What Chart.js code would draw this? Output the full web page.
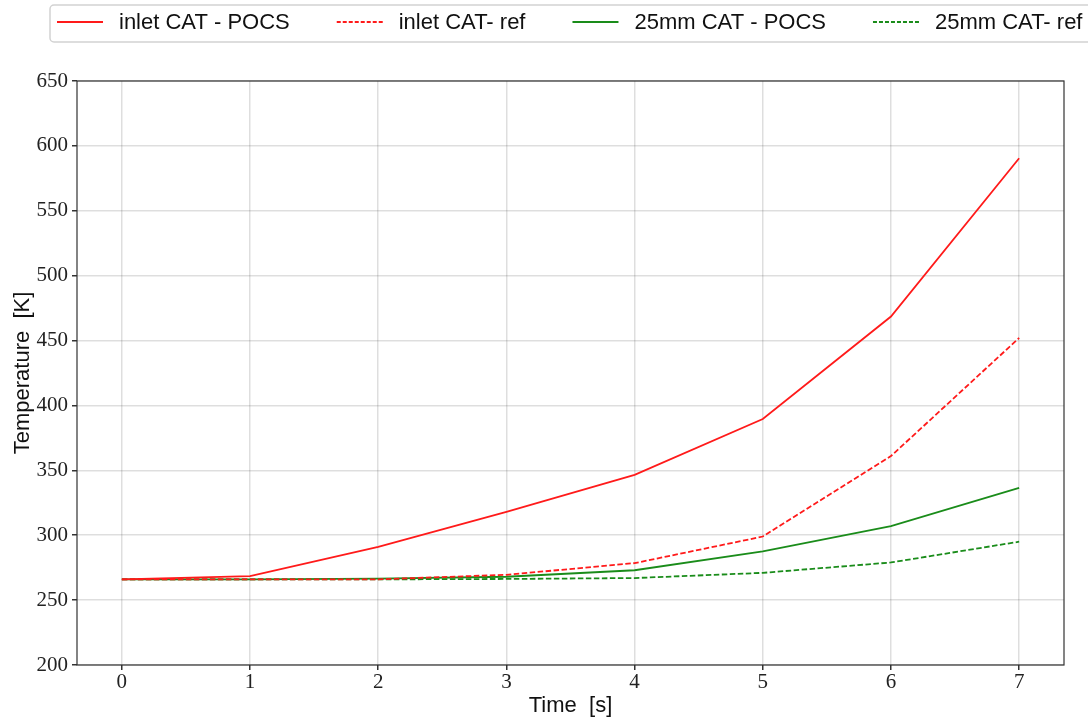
<!DOCTYPE html>
<html>
<head>
<meta charset="utf-8">
<title>Temperature vs time</title>
<script src="https://cdn.jsdelivr.net/npm/chart.js@4.4.1/dist/chart.umd.min.js"></script>
<style>
  html, body { margin: 0; padding: 0; background: #fff; }
  #wrap { width: 1088px; height: 720px; }
</style>
</head>
<body>
<div id="wrap"><canvas id="tempChart" width="1088" height="720"></canvas></div>
<script>
// time steps [s]
const times = [0, 1, 2, 3, 4, 5, 6, 7]
const xTicks = [0, 1, 2, 3, 4, 5, 6, 7]
const yTicks = [200, 250, 300, 350, 400, 450, 500, 550, 600, 650]

// temperatures [K]
const inletPocs = [266, 268.5, 291, 318, 346.5, 389.5, 468.5, 590.5]
const inletRef = [266, 266, 266, 269.5, 278.5, 299, 361, 452]
const mm25Pocs = [266, 266, 266.5, 268, 273, 287.5, 307, 336.5]
const mm25Ref = [266, 266, 266, 266.3, 267, 271, 279, 295]

const toPoints = (vals) => times.map((t, i) => ({ x: t, y: vals[i] }))

const sansFont = "'Liberation Sans', Arial, sans-serif"
const serifFont = "'Liberation Serif', 'DejaVu Serif', serif"

function series(label, vals, color, dashed) {
  return {
    label: label,
    data: toPoints(vals),
    borderColor: color,
    backgroundColor: color,
    borderWidth: 1.8,
    borderDash: dashed ? [5.5, 2.5] : [],
    pointRadius: 0,
    fill: false,
    tension: 0,
  }
}

// plot frame + framed legend row on top
const frameAndLegend = {
  id: "frameAndLegend",
  afterDraw(chart) {
    const { ctx, chartArea: a } = chart
    ctx.save()
    ctx.strokeStyle = "#333"
    ctx.lineWidth = 1.2
    ctx.setLineDash([])
    ctx.strokeRect(a.left, a.top, a.right - a.left, a.bottom - a.top)

    ctx.fillStyle = "rgba(255,255,255,0.9)"
    ctx.strokeStyle = "#d2d2d2"
    ctx.lineWidth = 1.5
    ctx.beginPath()
    ctx.roundRect(50, 5, 1070, 37, 4)
    ctx.fill()
    ctx.stroke()

    ctx.font = "22px " + sansFont
    ctx.textBaseline = "middle"
    const cy = 22
    let x = 57
    chart.data.datasets.forEach((ds) => {
      ctx.strokeStyle = ds.borderColor
      ctx.lineWidth = 1.8
      ctx.setLineDash(ds.borderDash.length ? [4, 2] : [])
      ctx.beginPath()
      ctx.moveTo(x, cy)
      ctx.lineTo(x + 46, cy)
      ctx.stroke()
      ctx.setLineDash([])
      ctx.fillStyle = "#111"
      ctx.fillText(ds.label, x + 62, cy + 1)
      x += 62 + ctx.measureText(ds.label).width + 47
    })
    ctx.restore()
  },
}

const chart = new Chart(document.getElementById("tempChart"), {
  type: "line",
  data: {
    datasets: [
      series("inlet CAT - POCS", inletPocs, "#ff1a1a", false),
      series("inlet CAT- ref", inletRef, "#ff1a1a", true),
      series("25mm CAT - POCS", mm25Pocs, "#1a8c1a", false),
      series("25mm CAT- ref", mm25Ref, "#1a8c1a", true),
    ],
  },
  options: {
    responsive: false,
    animation: false,
    layout: { padding: { top: 81, right: 24, left: 0, bottom: 0 } },
    plugins: {
      legend: { display: false },
      tooltip: { enabled: false },
    },
    scales: {
      x: {
        type: "linear",
        min: -0.35,
        max: 7.35,
        afterFit: (scale) => { scale.height = 55 },
        afterBuildTicks: (scale) => { scale.ticks = xTicks.map((v) => ({ value: v })) },
        ticks: {
          includeBounds: false,
          color: "#222",
          padding: 0,
          font: { family: serifFont, size: 21 },
        },
        grid: {
          color: "rgba(0,0,0,0.13)",
          lineWidth: 1.5,
          tickColor: "#333",
          tickLength: 5,
        },
        border: { display: false },
        title: {
          display: true,
          text: "Time  [s]",
          color: "#111",
          padding: { top: 0, bottom: 1 },
          font: { family: sansFont, size: 22 },
        },
      },
      y: {
        min: 200,
        max: 650,
        afterFit: (scale) => { scale.width = 77 },
        afterBuildTicks: (scale) => { scale.ticks = yTicks.map((v) => ({ value: v })) },
        ticks: {
          color: "#222",
          padding: 4,
          font: { family: serifFont, size: 21 },
        },
        grid: {
          color: "rgba(0,0,0,0.13)",
          lineWidth: 1.5,
          tickColor: "#333",
          tickLength: 5,
        },
        border: { display: false },
        title: {
          display: true,
          text: "Temperature  [K]",
          color: "#111",
          padding: { top: 10, bottom: 0 },
          font: { family: sansFont, size: 22 },
        },
      },
    },
  },
  plugins: [frameAndLegend],
})
</script>
</body>
</html>
